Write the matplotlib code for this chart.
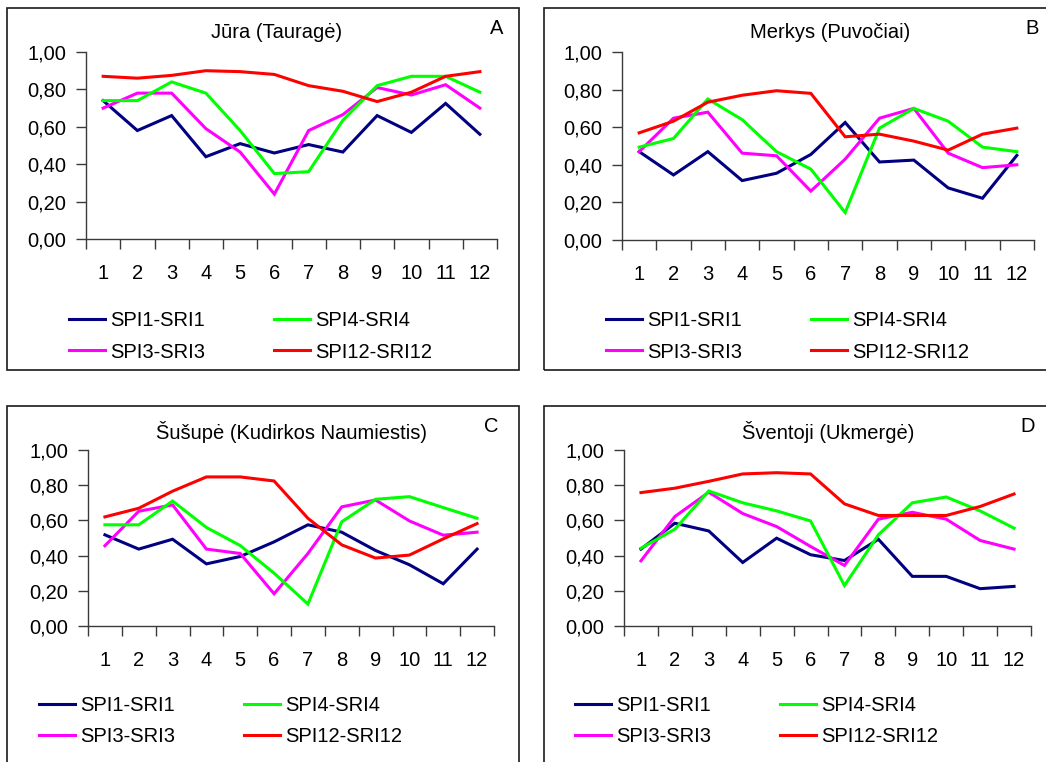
import matplotlib
matplotlib.use("Agg")
import matplotlib.pyplot as plt
from matplotlib.patches import Rectangle

plt.rcParams['font.family'] = ['Liberation Sans', 'DejaVu Sans']

months = list(range(1, 13))
tick_labels = [str(m) for m in months]
y_ticks = [0.0, 0.2, 0.4, 0.6, 0.8, 1.0]
y_tick_labels = ["0,00", "0,20", "0,40", "0,60", "0,80", "1,00"]
series_names = ["SPI1-SRI1", "SPI3-SRI3", "SPI4-SRI4", "SPI12-SRI12"]
series_colors = ["#000080", "#FF00FF", "#00FF00", "#FF0000"]

# A: Jūra (Tauragė)
jura_spi1 = [0.74, 0.58, 0.66, 0.44, 0.51, 0.46, 0.505, 0.465, 0.66, 0.57, 0.725, 0.56]
jura_spi3 = [0.70, 0.78, 0.78, 0.59, 0.465, 0.24, 0.58, 0.665, 0.81, 0.77, 0.825, 0.70]
jura_spi4 = [0.74, 0.74, 0.84, 0.78, 0.58, 0.35, 0.36, 0.635, 0.82, 0.87, 0.87, 0.785]
jura_spi12 = [0.87, 0.86, 0.875, 0.90, 0.895, 0.88, 0.82, 0.79, 0.735, 0.785, 0.87, 0.895]

# B: Merkys (Puvočiai)
merkys_spi1 = [0.47, 0.346, 0.47, 0.316, 0.355, 0.455, 0.625, 0.415, 0.425, 0.277, 0.222, 0.45]
merkys_spi3 = [0.47, 0.648, 0.68, 0.462, 0.448, 0.26, 0.43, 0.648, 0.70, 0.462, 0.385, 0.40]
merkys_spi4 = [0.494, 0.54, 0.75, 0.64, 0.47, 0.377, 0.146, 0.595, 0.70, 0.632, 0.494, 0.47]
merkys_spi12 = [0.57, 0.632, 0.733, 0.77, 0.794, 0.78, 0.549, 0.563, 0.526, 0.478, 0.563, 0.595]

# C: Šušupė (Kudirkos Naumiestis)
susupe_spi1 = [0.518, 0.437, 0.493, 0.353, 0.395, 0.478, 0.575, 0.533, 0.429, 0.348, 0.24, 0.437]
susupe_spi3 = [0.456, 0.652, 0.688, 0.437, 0.412, 0.183, 0.412, 0.677, 0.716, 0.597, 0.516, 0.533]
susupe_spi4 = [0.575, 0.575, 0.71, 0.56, 0.457, 0.30, 0.125, 0.592, 0.72, 0.735, 0.673, 0.612]
susupe_spi12 = [0.62, 0.669, 0.766, 0.847, 0.847, 0.824, 0.612, 0.461, 0.386, 0.403, 0.495, 0.582]

# D: Šventoji (Ukmergė)
sventoji_spi1 = [0.437, 0.584, 0.54, 0.361, 0.499, 0.405, 0.372, 0.493, 0.282, 0.282, 0.212, 0.225]
sventoji_spi3 = [0.37, 0.622, 0.76, 0.639, 0.565, 0.452, 0.344, 0.607, 0.646, 0.607, 0.486, 0.437]
sventoji_spi4 = [0.442, 0.55, 0.767, 0.70, 0.654, 0.597, 0.23, 0.518, 0.70, 0.733, 0.654, 0.556]
sventoji_spi12 = [0.758, 0.783, 0.822, 0.864, 0.871, 0.864, 0.694, 0.628, 0.628, 0.628, 0.679, 0.75]

W, H = 1046, 762
fig = plt.figure(figsize=(W / 100, H / 100), dpi=100)


def frac_box(x0, y0, x1, y1):
    return [x0 / W, 1 - y1 / H, (x1 - x0) / W, (y1 - y0) / H]


panels = [
    dict(title="Jūra (Tauragė)", letter="A",
         data=[jura_spi1, jura_spi3, jura_spi4, jura_spi12],
         frame=(7, 8, 519, 370), axes=(86, 52, 497, 239),
         title_xy=(277, 32), letter_xy=(497, 28), legend_xy=(69, 336.5)),
    dict(title="Merkys (Puvočiai)", letter="B",
         data=[merkys_spi1, merkys_spi3, merkys_spi4, merkys_spi12],
         frame=(544, 8, 1060, 370), axes=(622, 52, 1034, 240),
         title_xy=(830, 32), letter_xy=(1032, 28), legend_xy=(606, 336.5)),
    dict(title="Šušupė (Kudirkos Naumiestis)", letter="C",
         data=[susupe_spi1, susupe_spi3, susupe_spi4, susupe_spi12],
         frame=(7, 406, 519, 780), axes=(88, 450, 494, 626),
         title_xy=(291, 432), letter_xy=(491, 426), legend_xy=(39, 721)),
    dict(title="Šventoji (Ukmergė)", letter="D",
         data=[sventoji_spi1, sventoji_spi3, sventoji_spi4, sventoji_spi12],
         frame=(544, 406, 1060, 780), axes=(624, 450, 1031, 626),
         title_xy=(828, 432), letter_xy=(1028, 426), legend_xy=(575, 721)),
]

FS = 14.5
axis_color = "#3a3a3a"

for p in panels:
    fx0, fy0, fx1, fy1 = p["frame"]
    fig.add_artist(Rectangle((fx0 / W, 1 - fy1 / H), (fx1 - fx0) / W, (fy1 - fy0) / H,
                             transform=fig.transFigure, fill=False,
                             edgecolor="#1a1a1a", linewidth=1.2))

    ax = fig.add_axes(frac_box(*p["axes"]))
    ax.patch.set_alpha(0)
    handles = []
    for vals, name, col in zip(p["data"], series_names, series_colors):
        ln, = ax.plot(months, vals, color=col, linewidth=2.2, label=name,
                      solid_joinstyle="miter", clip_on=False)
        handles.append(ln)

    ax.set_xlim(0.5, 12.5)
    ax.set_ylim(0, 1)
    ax.set_xticks(months)
    ax.set_xticklabels(tick_labels, fontsize=FS)
    ax.set_xticks([m + 0.5 for m in range(0, 13)], minor=True)
    ax.tick_params(axis="x", which="major", length=0, pad=18)
    ax.tick_params(axis="x", which="minor", length=7, width=1, color=axis_color,
                   direction="out")
    ax.set_yticks(y_ticks)
    ax.set_yticklabels(y_tick_labels, fontsize=FS)
    ax.tick_params(axis="y", length=7, width=1, color=axis_color, pad=7,
                   direction="out")
    for side in ("top", "right"):
        ax.spines[side].set_visible(False)
    for side in ("left", "bottom"):
        ax.spines[side].set_color(axis_color)
        ax.spines[side].set_linewidth(1)

    tx, ty = p["title_xy"]
    fig.text(tx / W, 1 - ty / H, p["title"], fontsize=FS, ha="center", va="center")
    lx, ly = p["letter_xy"]
    fig.text(lx / W, 1 - ly / H, p["letter"], fontsize=FS, ha="center", va="center")

    gx, gy = p["legend_xy"]
    ax.legend(handles=handles, loc="center left",
              bbox_to_anchor=(gx / W, 1 - gy / H), bbox_transform=fig.transFigure,
              ncol=2, frameon=False, fontsize=FS, handlelength=1.8,
              handletextpad=0.25, columnspacing=3.4, labelspacing=0.6,
              borderpad=0, borderaxespad=0)

fig.savefig("out.png", dpi=100)
